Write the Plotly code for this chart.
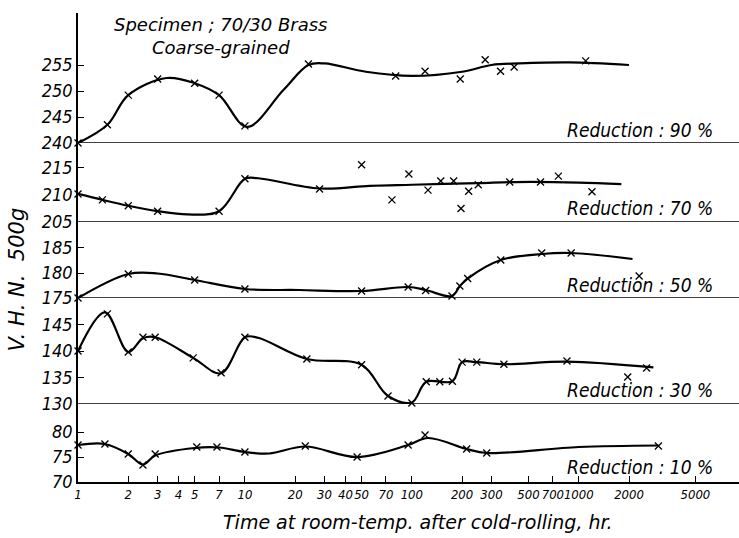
import plotly.graph_objects as go

# ---------------- data ----------------
# Reduction 90 %
x90_pts = [1, 1.5, 2, 3, 5, 7, 10, 24, 80, 120, 195, 275, 340, 410, 1100]
y90_pts = [240, 243.5, 249.2, 252.3, 251.5, 249.2, 243.3, 255.2, 252.9, 253.8, 252.3, 256.0, 253.8, 254.6, 255.8]
x90_crv = [1, 1.5, 2, 3.4, 5, 7, 10.3, 17, 24, 30, 53, 100, 200, 300, 440, 880, 2000]
y90_crv = [240, 243.5, 249.2, 252.5, 251.5, 249.2, 243.1, 250.2, 255.0, 255.3, 253.7, 252.9, 253.7, 255.0, 255.3, 255.5, 255.0]

# Reduction 70 %
x70_pts = [1, 1.4, 2, 3, 7, 10, 28, 50, 76, 96, 125, 149, 178, 197, 219, 250, 386, 590, 755, 1200]
y70_pts = [210.2, 209.1, 208.0, 207.0, 207.0, 213.0, 211.1, 215.6, 209.1, 213.9, 210.9, 212.6, 212.6, 207.5, 210.7, 211.9, 212.4, 212.4, 213.5, 210.6]
x70_crv = [1, 1.4, 2, 3, 4.5, 7, 10, 12, 28, 56, 100, 250, 420, 1000, 1800]
y70_crv = [210.2, 209.1, 208.0, 207.0, 206.4, 207.0, 213.0, 213.1, 211.2, 211.7, 211.9, 212.2, 212.4, 212.3, 212.0]

# Reduction 50 %
x50_pts = [1, 2, 5, 10, 50, 95, 121, 174, 194, 216, 341, 600, 900, 2300]
y50_pts = [175.0, 179.8, 178.6, 176.8, 176.4, 177.2, 176.5, 175.4, 177.4, 178.9, 182.6, 184.0, 184.0, 179.4]
x50_crv = [1, 2, 3, 5, 10, 21, 50, 95, 121, 174, 194, 216, 341, 600, 900, 2100]
y50_crv = [175.0, 179.8, 179.9, 178.6, 176.8, 176.6, 176.4, 177.2, 176.6, 175.4, 177.4, 178.9, 182.6, 183.8, 184.0, 182.8]

# Reduction 30 %
x30_pts = [1, 1.5, 2, 2.45, 2.9, 4.9, 7.2, 10, 23.5, 50, 72, 100, 122, 147, 175, 200, 245, 356, 850, 1965, 2550]
y30_pts = [140.0, 147.0, 139.8, 142.6, 142.6, 138.7, 135.9, 142.6, 138.5, 137.4, 131.5, 130.2, 134.2, 134.2, 134.3, 137.9, 137.9, 137.5, 138.1, 135.1, 136.8]
x30_crv = [1, 1.45, 2, 2.45, 2.9, 4.9, 7.2, 10, 12, 23.5, 50, 72, 100, 122, 175, 200, 245, 356, 850, 2800]
y30_crv = [140.0, 147.3, 139.8, 142.4, 142.6, 138.7, 135.8, 142.6, 142.5, 138.5, 137.4, 131.5, 130.3, 134.2, 134.3, 137.9, 137.9, 137.5, 138.0, 136.9]

# Reduction 10 %
x10_pts = [1, 1.45, 2, 2.45, 2.9, 5.15, 6.8, 10, 23, 47, 95, 120, 213, 281, 3000]
y10_pts = [77.4, 77.6, 75.6, 73.4, 75.6, 77.0, 77.0, 76.0, 77.2, 75.0, 77.4, 79.4, 76.6, 75.8, 77.2]
x10_crv = [1, 1.45, 2, 2.45, 2.9, 5, 7, 10, 14, 23, 47, 95, 125, 213, 281, 1000, 3000]
y10_crv = [77.4, 77.6, 75.6, 73.5, 75.3, 76.8, 76.9, 76.0, 75.7, 77.1, 75.0, 77.4, 78.8, 76.6, 75.8, 77.0, 77.3]

x_ticks = [1, 2, 3, 4, 5, 7, 10, 20, 30, 40, 50, 70, 100, 200, 300, 500, 700, 1000, 2000, 5000]
x_tick_labels = [str(v) for v in x_ticks]

reductions = ["90", "70", "50", "30", "10"]
y_ticks = {
    "90": [240, 245, 250, 255],
    "70": [205, 210, 215],
    "50": [175, 180, 185],
    "30": [130, 135, 140, 145],
    "10": [70, 75, 80],
}
y_ranges = {
    "90": [240, 265],
    "70": [205, 219.63],
    "50": [175, 190.2],
    "30": [130, 150],
    "10": [70, 85.6],
}

# ---------------- figure ----------------
FONT = "DejaVu Sans Condensed, DejaVu Sans, sans-serif"
WIDE = "DejaVu Sans, sans-serif"
series = {
    "90": (x90_pts, y90_pts, x90_crv, y90_crv),
    "70": (x70_pts, y70_pts, x70_crv, y70_crv),
    "50": (x50_pts, y50_pts, x50_crv, y50_crv),
    "30": (x30_pts, y30_pts, x30_crv, y30_crv),
    "10": (x10_pts, y10_pts, x10_crv, y10_crv),
}
axis_of = {"10": "y", "30": "y2", "50": "y3", "70": "y4", "90": "y5"}
domains = {
    "10": [0.0, 0.1663],
    "30": [0.1663, 0.3923],
    "50": [0.3923, 0.5544],
    "70": [0.5544, 0.7228],
    "90": [0.7228, 1.0],
}

fig = go.Figure()
for r in reductions:
    xp, yp, xc, yc = series[r]
    ax = axis_of[r]
    fig.add_trace(go.Scatter(
        x=xc, y=yc, mode="lines", yaxis=ax, xaxis="x",
        line=dict(color="black", width=2.2, shape="spline", smoothing=1.0),
        showlegend=False, hoverinfo="skip", cliponaxis=False))
    fig.add_trace(go.Scatter(
        x=xp, y=yp, mode="markers", yaxis=ax, xaxis="x",
        marker=dict(symbol="x-thin", size=7, line=dict(color="black", width=1.3)),
        showlegend=False, cliponaxis=False))

layout = dict(
    width=739, height=538,
    margin=dict(l=78, r=0, t=13, b=56),
    paper_bgcolor="white", plot_bgcolor="white",
    font=dict(family=FONT, color="black", style="italic"),
    xaxis=dict(
        type="log", range=[0, 3.96],
        tickvals=x_ticks, ticktext=x_tick_labels, tickangle=0,
        ticks="inside", ticklen=6, tickwidth=1.2, tickcolor="black",
        tickfont=dict(size=13, family=FONT, style="italic"),
        showline=True, linecolor="black", linewidth=1.5,
        showgrid=False, zeroline=False, anchor="y",
    ),
)
for r in reductions:
    ax = axis_of[r]
    key = "yaxis" if ax == "y" else "yaxis" + ax[1:]
    layout[key] = dict(
        domain=domains[r], range=y_ranges[r], anchor="x",
        tickvals=y_ticks[r], ticktext=[str(v) for v in y_ticks[r]],
        ticks="inside", ticklen=6, tickwidth=1.2, tickcolor="black",
        tickfont=dict(size=18, family=FONT, style="italic"),
        showline=True, linecolor="black", linewidth=1.5,
        showgrid=False, zeroline=False,
    )
fig.update_layout(**layout)

# separator lines at the bottom of the upper panels
for r in ["90", "70", "50", "30"]:
    fig.add_shape(type="line", xref="paper", x0=0, x1=1,
                  yref=axis_of[r], y0=y_ranges[r][0], y1=y_ranges[r][0],
                  line=dict(color="black", width=1.5))

label_y = {"90": 0.7505, "70": 0.584, "50": 0.420, "30": 0.196, "10": 0.032}
for r in reductions:
    fig.add_annotation(text=f"Reduction : {r} %", xref="paper", yref="paper",
                       x=0.964, y=label_y[r], xanchor="right", yanchor="middle",
                       showarrow=False, font=dict(size=19, family=FONT, style="italic"))

fig.add_annotation(text="Specimen ; 70/30 Brass<br>Coarse-grained", xref="paper", yref="paper",
                   x=0.215, y=0.951, xanchor="center", yanchor="middle",
                   showarrow=False, font=dict(size=18, family=WIDE, style="italic"))
fig.add_annotation(text="V. H. N.  500g", xref="paper", yref="paper",
                   x=-0.093, y=0.431, xanchor="center", yanchor="middle",
                   textangle=-90, showarrow=False,
                   font=dict(size=21, family=WIDE, style="italic"))
fig.add_annotation(text="Time at room-temp. after cold-rolling, hr.", xref="paper", yref="paper",
                   x=0.514, y=-0.085, xanchor="center", yanchor="middle",
                   showarrow=False, font=dict(size=19, family=WIDE, style="italic"))

# remove the browser's default page margin so the figure sits at the window origin
fig.write_html("out.html", config={"displayModeBar": False},
               post_script="document.body.style.margin='0';")
